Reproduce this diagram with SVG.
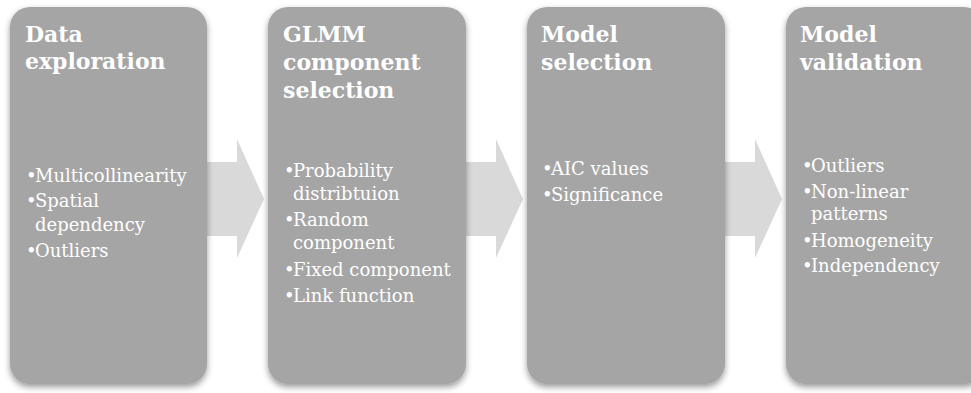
<svg xmlns="http://www.w3.org/2000/svg" width="971" height="393" viewBox="0 0 971 393">
<style>
.box{fill:#a5a5a5;filter:url(#sh)}
.arrow{fill:#d9d9d9}
.t{font-family:"DejaVu Serif","Liberation Serif",serif;font-weight:bold;font-size:22px;fill:#ffffff}
.b{font-family:"DejaVu Serif","Liberation Serif",serif;font-size:18px;fill:#ffffff}
</style>
<defs>
<filter id="sh" x="-10%" y="-10%" width="120%" height="120%">
<feDropShadow dx="0" dy="3" stdDeviation="3" flood-color="#000" flood-opacity="0.4"/>
</filter>
</defs>
<rect width="971" height="393" fill="#ffffff"/>
<g id="connectors">
<polygon class="arrow" points="205,162 237,162 237,139 264,199 237,258 237,236 205,236"/>
<polygon class="arrow" points="464,162 496,162 496,139 523,199 496,258 496,236 464,236"/>
<polygon class="arrow" points="723,162 755,162 755,139 782,199 755,258 755,236 723,236"/>
</g>
<g id="node1">
<rect class="box" x="10" y="7" width="197" height="377" rx="20"/>
<text class="t" x="25" y="42">Data</text>
<text class="t" x="25" y="69">exploration</text>
<text class="b"><tspan x="26" y="182">•</tspan><tspan x="35" y="182">Multicollinearity</tspan><tspan x="26" y="207">•</tspan><tspan x="35" y="207">Spatial</tspan><tspan x="35" y="231">dependency</tspan><tspan x="26" y="257">•</tspan><tspan x="35" y="257">Outliers</tspan></text>
</g>
<g id="node2">
<rect class="box" x="268" y="7" width="198" height="377" rx="20"/>
<text class="t" x="283" y="42">GLMM</text>
<text class="t" x="283" y="70">component</text>
<text class="t" x="283" y="98">selection</text>
<text class="b"><tspan x="284" y="177">•</tspan><tspan x="293" y="177">Probability</tspan><tspan x="293" y="200">distribtuion</tspan><tspan x="284" y="226">•</tspan><tspan x="293" y="226">Random</tspan><tspan x="293" y="249">component</tspan><tspan x="284" y="276">•</tspan><tspan x="293" y="276">Fixed component</tspan><tspan x="284" y="302">•</tspan><tspan x="293" y="302">Link function</tspan></text>
</g>
<g id="node3">
<rect class="box" x="527" y="7" width="198" height="377" rx="20"/>
<text class="t" x="541" y="42">Model</text>
<text class="t" x="541" y="70">selection</text>
<text class="b"><tspan x="542" y="175">•</tspan><tspan x="551" y="175">AIC values</tspan><tspan x="542" y="201">•</tspan><tspan x="551" y="201">Significance</tspan></text>
</g>
<g id="node4">
<rect class="box" x="786" y="7" width="198" height="377" rx="20"/>
<text class="t" x="800" y="42">Model</text>
<text class="t" x="800" y="70">validation</text>
<text class="b"><tspan x="802" y="172">•</tspan><tspan x="811" y="172">Outliers</tspan><tspan x="802" y="198">•</tspan><tspan x="811" y="198">Non-linear</tspan><tspan x="811" y="220">patterns</tspan><tspan x="802" y="247">•</tspan><tspan x="811" y="247">Homogeneity</tspan><tspan x="802" y="272">•</tspan><tspan x="811" y="272">Independency</tspan></text>
</g>
</svg>
